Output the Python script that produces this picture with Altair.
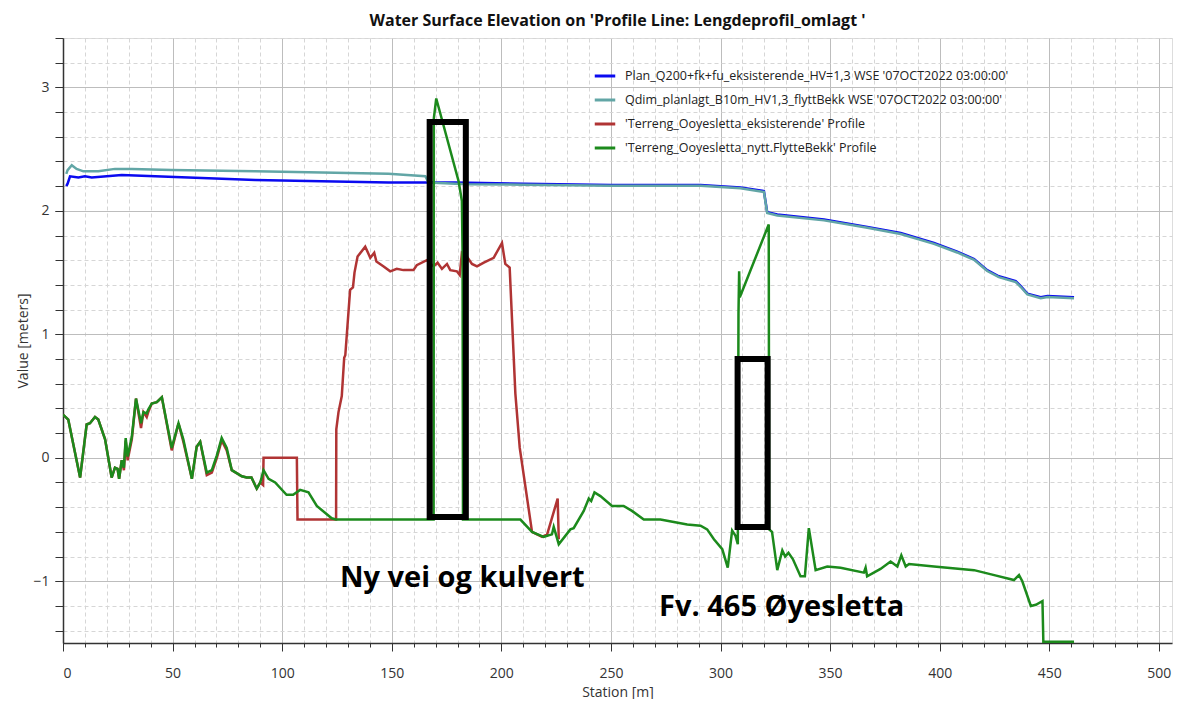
import altair as alt
import pandas as pd

TITLE = "Water Surface Elevation on 'Profile Line: Lengdeprofil_omlagt '"
SERIES = [
    "Plan_Q200+fk+fu_eksisterende_HV=1,3 WSE '07OCT2022 03:00:00'",
    "Qdim_planlagt_B10m_HV1,3_flyttBekk WSE '07OCT2022 03:00:00'",
    "'Terreng_Ooyesletta_eksisterende' Profile",
    "'Terreng_Ooyesletta_nytt.FlytteBekk' Profile",
]
COLORS = ["#0a0af0", "#62a6a6", "#b03434", "#1c8a1c"]

# --- WSE, existing plan (blue)
blue_st = [1.5, 2.1, 3.2, 7.0, 10.0, 13.1, 26.8, 42.0, 57.2, 87.7, 118.0, 148.5, 179.0,
           210.0, 250.0, 290.9, 300.0, 309.1, 319.8, 321.3, 325.9, 347.2, 367.0, 382.2,
           397.4, 408.0, 415.7, 421.7, 427.0, 434.7, 437.0, 440.0, 446.1, 449.2, 461.3]
blue_val = [2.20, 2.22, 2.28, 2.27, 2.28, 2.27, 2.29, 2.28, 2.27, 2.25, 2.24, 2.23, 2.23,
            2.22, 2.21, 2.21, 2.20, 2.19, 2.16, 1.99, 1.97, 1.93, 1.87, 1.82,
            1.74, 1.67, 1.61, 1.52, 1.47, 1.43, 1.39, 1.33, 1.30, 1.31, 1.30]

# --- WSE, planned (teal)
teal_st = [1.5, 2.1, 4.0, 6.2, 9.3, 16.1, 23.7, 31.4, 49.6, 87.7, 118.0, 148.5, 165.3, 166.8,
           184.0, 210.0, 250.0, 290.9, 300.0, 309.1, 319.8, 321.3, 325.9, 347.2, 367.0, 382.2,
           397.4, 408.0, 415.7, 421.7, 427.0, 434.7, 437.0, 440.0, 446.1, 449.2, 461.3]
teal_val = [2.30, 2.33, 2.37, 2.34, 2.32, 2.32, 2.34, 2.34, 2.33, 2.32, 2.31, 2.30, 2.28, 2.23,
            2.215, 2.212, 2.203, 2.203, 2.193, 2.183, 2.153, 1.983, 1.963, 1.923, 1.863, 1.813,
            1.733, 1.663, 1.603, 1.513, 1.463, 1.423, 1.383, 1.323, 1.293, 1.303, 1.293]

# --- Terrain, existing (red)
red_st = [0, 2.4, 7.8, 10.8, 12.3, 14.6, 16.1, 19.2, 22.2, 23.7, 24.9, 25.6, 26.8, 27.8, 28.6,
          29.5, 31.4, 33.3, 35.6, 36.7, 38.2, 38.9, 40.5, 42.8, 45.1, 49.6, 52.7, 54.9, 58.8,
          61.0, 62.6, 65.6, 67.9, 70.2, 72.4, 74.7, 77.0, 81.6, 83.8, 86.0, 88.4, 90.0, 91.3,
          91.5, 106.7, 107.0, 124.6, 124.7, 125.7, 127.2, 128.3, 128.8, 131.0, 132.3, 133.0,
          134.4, 137.9, 140.2, 142.0, 143.0, 146.3, 149.3, 152.3, 155.3, 159.9, 161.4, 166.0,
          169.1, 170.9, 172.9, 175.2, 176.7, 179.7, 181.0, 182.0, 184.3, 186.6, 188.9, 192.0,
          196.5, 200.3, 201.8, 203.8, 206.4, 208.4, 214.0, 218.6, 220.9, 225.7, 226.2]
red_val = [0.35, 0.31, -0.16, 0.27, 0.28, 0.33, 0.31, 0.15, -0.16, -0.08, -0.09, -0.17, -0.02,
           -0.10, 0.14, -0.02, 0.15, 0.48, 0.24, 0.37, 0.33, 0.37, 0.44, 0.45, 0.49, 0.06, 0.28,
           0.13, -0.17, 0.09, 0.13, -0.14, -0.12, 0.00, 0.14, 0.06, -0.10, -0.15, -0.16, -0.16,
           -0.25, -0.20, -0.22, 0.00, 0.00, -0.50, -0.50, 0.23, 0.37, 0.50, 0.81, 0.83, 1.36,
           1.38, 1.50, 1.63, 1.71, 1.62, 1.66, 1.59, 1.55, 1.51, 1.53, 1.52, 1.52, 1.56, 1.60,
           1.55, 1.58, 1.53, 1.57, 1.52, 1.51, 1.48, 1.66, 1.63, 1.57, 1.55, 1.58, 1.62, 1.74,
           1.57, 1.54, 0.52, 0.08, -0.60, -0.64, -0.62, -0.33, -0.66]

# --- Terrain, new (green)
green_st = [0, 2.4, 7.8, 10.8, 12.3, 14.6, 16.1, 19.2, 22.2, 23.7, 24.9, 25.6, 26.8, 27.8, 28.6,
            29.5, 31.4, 33.3, 35.6, 36.7, 38.2, 38.9, 40.5, 42.8, 45.1, 49.6, 52.7, 54.9, 58.8,
            61.0, 62.6, 65.6, 67.9, 70.2, 72.4, 74.7, 77.0, 81.6, 83.8, 86.0, 88.4, 90.0, 91.5,
            93.8, 96.8, 102.0, 105.0, 108.2, 112.0, 115.8, 122.6, 124.5, 169.1, 169.2, 170.3,
            180.5, 182.0, 182.3, 182.5, 208.7, 214.0, 219.3, 223.1, 223.9, 226.2, 231.5, 233.0,
            237.6, 239.9, 241.0, 242.5, 245.2, 250.5, 255.8, 259.6, 265.0, 272.6, 278.7, 284.8,
            290.9, 293.9, 297.0, 300.8, 303.3, 305.3, 306.8, 307.9, 308.2, 308.5, 308.8, 322.0,
            322.2, 323.5, 325.9, 328.2, 329.5, 331.0, 333.0, 336.5, 338.5, 340.3, 343.4, 348.7,
            354.8, 365.4, 366.2, 366.9, 373.0, 377.6, 380.7, 382.5, 384.5, 386.0, 397.4, 403.5,
            415.7, 424.9, 433.9, 436.2, 437.7, 441.6, 443.9, 446.9, 447.3, 461.3]
green_val = [0.35, 0.31, -0.16, 0.27, 0.28, 0.33, 0.31, 0.15, -0.16, -0.08, -0.09, -0.17, -0.02,
             -0.08, 0.16, 0.01, 0.17, 0.48, 0.28, 0.37, 0.36, 0.39, 0.44, 0.45, 0.49, 0.08, 0.28,
             0.15, -0.17, 0.09, 0.13, -0.12, -0.10, 0.02, 0.16, 0.08, -0.10, -0.15, -0.16, -0.16,
             -0.25, -0.20, -0.10, -0.17, -0.20, -0.30, -0.30, -0.26, -0.28, -0.39, -0.49, -0.50,
             -0.50, 2.75, 2.91, 2.24, 2.08, 1.67, -0.50, -0.50, -0.60, -0.64, -0.62, -0.56, -0.70,
             -0.58, -0.57, -0.43, -0.33, -0.35, -0.28, -0.31, -0.39, -0.39, -0.43, -0.50, -0.50,
             -0.52, -0.54, -0.55, -0.58, -0.66, -0.74, -0.89, -0.59, -0.63, -0.70, 1.17, 1.51,
             1.30, 1.89, -0.58, -0.60, -0.91, -0.75, -0.80, -0.77, -0.82, -0.96, -0.96, -0.57,
             -0.91, -0.88, -0.89, -0.93, -0.89, -0.96, -0.90, -0.84, -0.88, -0.79, -0.88, -0.86,
             -0.88, -0.89, -0.91, -0.95, -0.99, -0.95, -1.00, -1.20, -1.19, -1.16, -1.49, -1.49]

# --- annotation boxes and labels
box_x1 = [167.3, 307.8]
box_x2 = [183.8, 321.5]
box_y1 = [-0.48, -0.56]
box_y2 = [2.72, 0.80]
note_text = ["Ny vei og kulvert", "Fv. 465 Øyesletta"]
note_x = [182.2, 327.9]
note_y = [-0.97, -1.21]

X_DOMAIN = [0, 506]
Y_DOMAIN = [-1.5, 3.4]
X_MAJOR = [0, 50, 100, 150, 200, 250, 300, 350, 400, 450, 500]
X_MINOR = list(range(0, 510, 10))
Y_MAJOR = [-1, 0, 1, 2, 3]
Y_MINOR = [round(-1.4 + 0.2 * i, 1) for i in range(25)]

FONT = "Open Sans"


def frame(st, val, name):
    return pd.DataFrame({"Station": st, "Value": val, "Series": name,
                         "idx": list(range(len(st)))})


df = pd.concat([frame(blue_st, blue_val, SERIES[0]),
                frame(teal_st, teal_val, SERIES[1]),
                frame(red_st, red_val, SERIES[2]),
                frame(green_st, green_val, SERIES[3])], ignore_index=True)

boxes = pd.DataFrame({"x1": box_x1, "x2": box_x2, "y1": box_y1, "y2": box_y2})
notes = pd.DataFrame({"t": note_text, "x": note_x, "y": note_y})

xs = alt.Scale(domain=X_DOMAIN, nice=False, zero=False)
ys = alt.Scale(domain=Y_DOMAIN, nice=False, zero=False)

color = alt.Color(
    "Series:N",
    scale=alt.Scale(domain=SERIES, range=COLORS),
    legend=alt.Legend(
        title=None, orient="none", legendX=530, legendY=26,
        symbolType="stroke", symbolStrokeWidth=3, symbolSize=420,
        labelFontSize=12.5, labelFont=FONT, labelColor="#222222", labelLimit=0,
        rowPadding=5, symbolOffset=0, labelOffset=8,
    ),
)

# invisible layer that carries the minor grid/ticks
minor = alt.Chart(df).mark_point(opacity=0).encode(
    x=alt.X("Station:Q", scale=xs, axis=alt.Axis(
        orient="bottom", values=X_MINOR, labels=False, title=None, domain=False,
        tickSize=4, tickColor="#333333", grid=True, gridColor="#d6d6d6",
        gridDash=[4, 3], gridWidth=1)),
    y=alt.Y("Value:Q", scale=ys, axis=alt.Axis(
        orient="left", values=Y_MINOR, labels=False, title=None, domain=False,
        tickSize=8, tickColor="#333333", grid=True, gridColor="#d6d6d6",
        gridDash=[4, 3], gridWidth=1)),
)

major = alt.Chart(df).mark_point(opacity=0).encode(
    x=alt.X("Station:Q", scale=xs, axis=alt.Axis(
        orient="bottom", values=X_MAJOR, title="Station [m]", domain=True,
        domainColor="#333333", domainWidth=1.5, tickSize=8, tickColor="#333333",
        labelFont=FONT, labelFontSize=14, labelColor="#333333", labelPadding=15,
        titleFont=FONT, titleFontSize=14, titleFontWeight="normal", titleColor="#333333",
        titlePadding=5, grid=True, gridColor="#bdbdbd", gridWidth=1)),
    y=alt.Y("Value:Q", scale=ys, axis=alt.Axis(
        orient="left", values=Y_MAJOR, title="Value [meters]", domain=True,
        domainColor="#333333", domainWidth=1.5, tickSize=8, tickColor="#333333",
        labelFont=FONT, labelFontSize=14, labelColor="#333333", labelPadding=6,
        titleFont=FONT, titleFontSize=14, titleFontWeight="normal", titleColor="#333333",
        titlePadding=2, grid=True, gridColor="#bdbdbd", gridWidth=1)),
)


def series_layer(name):
    return alt.Chart(df).transform_filter(alt.datum.Series == name).mark_line(
        strokeWidth=2.5, clip=True
    ).encode(
        x=alt.X("Station:Q", scale=xs, axis=None),
        y=alt.Y("Value:Q", scale=ys, axis=None),
        order="idx:Q",
        color=color,
    )


rects = alt.Chart(boxes).mark_rect(filled=False, stroke="black", strokeWidth=6).encode(
    x=alt.X("x1:Q", scale=xs, axis=None), x2="x2:Q",
    y=alt.Y("y1:Q", scale=ys, axis=None), y2="y2:Q",
)

texts = alt.Chart(notes).mark_text(
    font=FONT, fontSize=29, fontWeight="bold", color="black", align="center", baseline="middle"
).encode(
    x=alt.X("x:Q", scale=xs, axis=None), y=alt.Y("y:Q", scale=ys, axis=None), text="t:N",
)

chart = alt.layer(
    minor, major,
    series_layer(SERIES[0]), series_layer(SERIES[1]),
    series_layer(SERIES[2]), series_layer(SERIES[3]),
    rects, texts,
).resolve_axis(x="independent", y="independent").properties(
    width=1109, height=605,
    title=alt.Title(TITLE, font=FONT, fontSize=16, fontWeight="bold", color="#111111",
                    anchor="middle", offset=9),
    autosize=alt.AutoSizeParams(type="none"),
    padding={"left": 55, "top": 30, "right": 7, "bottom": 56},
).configure_view(stroke="#9a9a9a", strokeWidth=1).configure(background="white")

chart.save("out.html", embed_options={"renderer": "svg", "actions": False})
